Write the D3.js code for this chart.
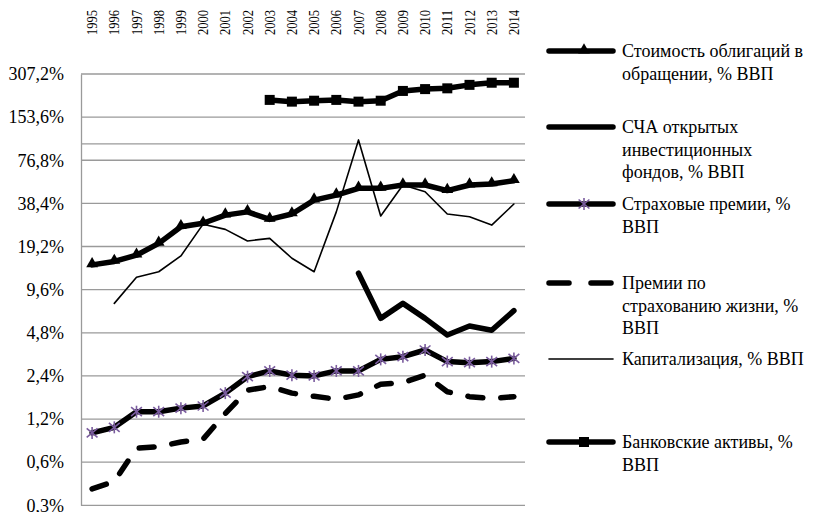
<!DOCTYPE html>
<html>
<head>
<meta charset="utf-8">
<script src="https://cdn.jsdelivr.net/npm/d3@7"></script>
<style>
  body { margin: 0; background: #fff; }
  text { font-family: "Liberation Serif", "Times New Roman", serif; fill: #000; }
</style>
</head>
<body>
<svg id="chart" width="814" height="512"></svg>
<script>
// годы
var years = [1995,1996,1997,1998,1999,2000,2001,2002,2003,2004,2005,2006,2007,2008,2009,2010,2011,2012,2013,2014];
var yTicks = [0.3,0.6,1.2,2.4,4.8,9.6,19.2,38.4,76.8,153.6,307.2];

// ряды, % ВВП (null = нет данных)
var bonds    = [14.3,15.1,16.7,20.2,26.4,27.9,31.8,33.5,29.7,32.4,40.5,43.9,48.9,48.9,51.6,51.6,47.2,51.6,52.5,55.3];
var funds    = [null,null,null,null,null,null,null,null,null,null,null,null,12.5,6.05,7.7,6.05,4.63,5.35,5.0,6.85];
var insur    = [0.96,1.05,1.35,1.35,1.43,1.48,1.82,2.37,2.6,2.43,2.4,2.6,2.6,3.13,3.27,3.64,3.02,2.97,3.02,3.18];
var life     = [0.39,0.44,0.75,0.77,0.83,0.87,1.31,1.91,2.02,1.82,1.73,1.65,1.77,2.1,2.15,2.43,1.86,1.72,1.67,1.72];
var capital  = [null,7.7,11.7,12.8,16.5,27.5,25.3,21,21.9,15.9,12.8,33.5,106.5,31.4,51.6,46.3,32.4,31,27.1,38];
var banks    = [null,null,null,null,null,null,null,null,202.6,197,200,202.6,197,200,234,241,244,258,267,267];

var names = [
  ["Стоимость облигаций в", "обращении, % ВВП"],
  ["СЧА открытых", "инвестиционных", "фондов, % ВВП"],
  ["Страховые премии, %", "ВВП"],
  ["Премии по", "страхованию жизни, %", "ВВП"],
  ["Капитализация, % ВВП"],
  ["Банковские активы, %", "ВВП"]
];

var svg = d3.select("#chart");
var plotL = 81, plotR = 525, plotT = 74, plotB = 505.3;

var x = d3.scaleBand().domain(years).range([plotL, plotR]);
var y = d3.scaleLog().base(2).domain([0.3, 307.2]).range([plotB, plotT]);
function cx(i){ return x(years[i]) + x.bandwidth()/2; }

// сетка
svg.append("g").selectAll("line")
  .data(yTicks.concat([100]))
  .enter().append("line")
  .attr("x1", plotL).attr("x2", plotR)
  .attr("y1", function(d){ return y(d); })
  .attr("y2", function(d){ return y(d); })
  .attr("stroke", "#9a9a9a").attr("stroke-width", 1.3);

// ось Y
var yAxis = d3.axisLeft(y).tickValues(yTicks).tickSize(0).tickPadding(17)
  .tickFormat(function(d){ return String(d).replace(".", ",") + "%"; });
var gy = svg.append("g").attr("transform", "translate(" + plotL + ",0)").call(yAxis);
gy.select(".domain").attr("stroke", "#9a9a9a").attr("stroke-width", 1.3);
gy.selectAll("text").style("font-family", "Liberation Serif").style("font-size", "18px").attr("fill", "#000");

// подписи годов сверху (сжаты по длине, как в оригинале)
svg.append("g").selectAll("text")
  .data(years).enter().append("text")
  .attr("transform", function(d, i){ return "translate(" + (cx(i) + 5) + ",35) rotate(-90)"; })
  .attr("text-anchor", "start")
  .attr("textLength", 25)
  .attr("lengthAdjust", "spacingAndGlyphs")
  .style("font-size", "15px")
  .text(function(d){ return d; });

function lineGen(){
  return d3.line()
    .defined(function(d){ return d != null; })
    .x(function(d, i){ return cx(i); })
    .y(function(d){ return y(d); });
}

var starColor = "#7a5c9e";

function drawSeries(data, width, dash){
  var p = svg.append("path").datum(data)
    .attr("d", lineGen())
    .attr("fill", "none").attr("stroke", "#000")
    .attr("stroke-width", width)
    .attr("stroke-linejoin", "round")
    .attr("stroke-linecap", "round");
  if (dash) p.attr("stroke-dasharray", dash);
}

function marker(g, type, px, py){
  if (type === "tri") {
    g.append("path").attr("d", d3.symbol().type(d3.symbolTriangle).size(60)())
      .attr("transform", "translate(" + px + "," + (py - 1) + ")").attr("fill", "#000");
  } else if (type === "sq") {
    g.append("rect").attr("x", px - 5).attr("y", py - 5).attr("width", 10).attr("height", 10).attr("fill", "#000");
  } else if (type === "star") {
    var r = 6;
    var s = g.append("g").attr("stroke", starColor).attr("stroke-width", 1.6);
    s.append("line").attr("x1", px).attr("x2", px).attr("y1", py - r).attr("y2", py + r);
    s.append("line").attr("x1", px - r*0.9).attr("x2", px + r*0.9).attr("y1", py - r*0.75).attr("y2", py + r*0.75);
    s.append("line").attr("x1", px - r*0.9).attr("x2", px + r*0.9).attr("y1", py + r*0.75).attr("y2", py - r*0.75);
  }
}

function drawMarkers(data, type){
  var g = svg.append("g");
  data.forEach(function(d, i){ if (d != null) marker(g, type, cx(i), y(d)); });
}

drawSeries(capital, 1.6);
drawSeries(life, 5.5, "15 18");
drawSeries(insur, 5.5);
drawMarkers(insur, "star");
drawSeries(funds, 5.5);
drawSeries(bonds, 5.5);
drawMarkers(bonds, "tri");
drawSeries(banks, 5.5);
drawMarkers(banks, "sq");

// легенда
var legend = [
  { y: 51,  w: 5.5, dash: null,    m: "tri" },
  { y: 127, w: 5.5, dash: null,    m: null },
  { y: 204, w: 5.5, dash: null,    m: "star" },
  { y: 283, w: 5.5, dash: "20 22", m: null },
  { y: 359, w: 1.6, dash: null,    m: null },
  { y: 442, w: 5.5, dash: null,    m: "sq" }
];
legend.forEach(function(l, k){
  var g = svg.append("g");
  var ln = g.append("line").attr("x1", 549).attr("x2", 613)
    .attr("y1", l.y).attr("y2", l.y)
    .attr("stroke", "#000").attr("stroke-width", l.w).attr("stroke-linecap", "round");
  if (l.dash) ln.attr("stroke-dasharray", l.dash);
  if (l.m) marker(g, l.m, 584, l.y);
  names[k].forEach(function(t, j){
    g.append("text").attr("x", 622).attr("y", l.y + 6 + j * 22.5)
      .style("font-size", "18px").text(t);
  });
});
</script>
</body>
</html>
